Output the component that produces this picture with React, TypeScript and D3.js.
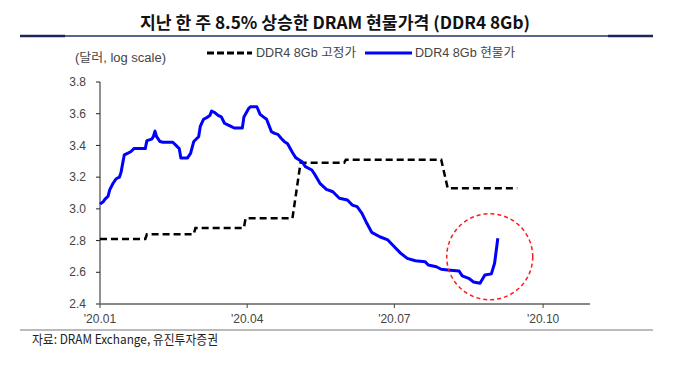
import React from 'react';
import * as d3 from 'd3';

// DDR4 8Gb fixed (contract) price, USD
const fixedDates = ['2020-01-01', '2020-01-29', '2020-01-30', '2020-02-28', '2020-02-29', '2020-03-30', '2020-03-31',
  '2020-04-29', '2020-05-04', '2020-05-31', '2020-06-01', '2020-07-30', '2020-08-03', '2020-09-15'];
const fixedValues = [2.81, 2.81, 2.84, 2.84, 2.88, 2.88, 2.94, 2.94, 3.29, 3.29, 3.31, 3.31, 3.13, 3.13];

// DDR4 8Gb spot price, USD
const spotDates = ['2020-01-01', '2020-01-03', '2020-01-04', '2020-01-06', '2020-01-07', '2020-01-09', '2020-01-11',
  '2020-01-13', '2020-01-14', '2020-01-16', '2020-01-18', '2020-01-20', '2020-01-22', '2020-01-29', '2020-01-30',
  '2020-02-02', '2020-02-03', '2020-02-04', '2020-02-05', '2020-02-07', '2020-02-09', '2020-02-15', '2020-02-17',
  '2020-02-19', '2020-02-20', '2020-02-24', '2020-02-26', '2020-02-28', '2020-03-01', '2020-03-02', '2020-03-03',
  '2020-03-05', '2020-03-07', '2020-03-09', '2020-03-10', '2020-03-12', '2020-03-14', '2020-03-16', '2020-03-18',
  '2020-03-20', '2020-03-22', '2020-03-24', '2020-03-29', '2020-03-30', '2020-04-02', '2020-04-03', '2020-04-07',
  '2020-04-09', '2020-04-11', '2020-04-13', '2020-04-16', '2020-04-18', '2020-04-20', '2020-04-22', '2020-04-24',
  '2020-04-26', '2020-04-29', '2020-05-01', '2020-05-03', '2020-05-05', '2020-05-07', '2020-05-11', '2020-05-13',
  '2020-05-16', '2020-05-20', '2020-05-24', '2020-05-28', '2020-06-02', '2020-06-05', '2020-06-08', '2020-06-11',
  '2020-06-14', '2020-06-17', '2020-06-22', '2020-06-27', '2020-07-01', '2020-07-05', '2020-07-09', '2020-07-14',
  '2020-07-20', '2020-07-22', '2020-07-27', '2020-07-30', '2020-08-03', '2020-08-10', '2020-08-12', '2020-08-16',
  '2020-08-19', '2020-08-23', '2020-08-26', '2020-08-30', '2020-09-01', '2020-09-03'];
const spotValues = [3.03, 3.045, 3.06, 3.08, 3.12, 3.16, 3.19,
  3.20, 3.23, 3.34, 3.35, 3.36, 3.38, 3.38, 3.43,
  3.44, 3.455, 3.49, 3.455, 3.425, 3.42, 3.42, 3.40,
  3.38, 3.32, 3.32, 3.35, 3.425, 3.445, 3.455, 3.52,
  3.565, 3.575, 3.59, 3.617, 3.607, 3.59, 3.58, 3.54,
  3.53, 3.52, 3.51, 3.51, 3.58, 3.634, 3.644, 3.644,
  3.596, 3.58, 3.565, 3.487, 3.476, 3.47, 3.445, 3.424,
  3.41, 3.355, 3.323, 3.31, 3.297, 3.266, 3.245, 3.214,
  3.161, 3.123, 3.108, 3.067, 3.056, 3.024, 3.014, 2.972,
  2.909, 2.852, 2.824, 2.804, 2.761, 2.719, 2.688, 2.673,
  2.667, 2.646, 2.635, 2.619, 2.614, 2.608, 2.577, 2.562,
  2.539, 2.531, 2.583, 2.59, 2.657, 2.815];

const yTicks = [2.4, 2.6, 2.8, 3.0, 3.2, 3.4, 3.6, 3.8];
const xTickDates = ['2020-01-01', '2020-04-01', '2020-07-01', '2020-10-01'];
const xTickLabels = ["'20.01", "'20.04", "'20.07", "'20.10"];

// highlighted area (dashed red circle)
const highlightDate = '2020-08-29';
const highlightValue = 2.698;

const title = '지난 한 주 8.5% 상승한 DRAM 현물가격 (DDR4 8Gb)';
const unitLabel = '(달러, log scale)';
const legendLabels = ['DDR4 8Gb 고정가', 'DDR4 8Gb 현물가'];
const source = '자료: DRAM Exchange, 유진투자증권';

const parse = d3.timeParse('%Y-%m-%d');
const FONT = '"Liberation Sans", Arial, "Noto Sans CJK KR", sans-serif';
const KFONT = '"Noto Sans CJK KR", "Liberation Sans", sans-serif';

const App: React.FC = () => {
  const width = 680;
  const height = 365;

  const x = d3.scaleTime()
    .domain([parse('2020-01-01') as Date, parse('2020-10-30') as Date])
    .range([100, 590]);
  const y = d3.scaleLinear().domain([2.4, 3.8]).range([304, 82]);

  const line = d3.line<[Date, number]>()
    .x(d => x(d[0]))
    .y(d => y(d[1]));

  const fixed: [Date, number][] = fixedDates.map((d, i) => [parse(d) as Date, fixedValues[i]]);
  const spot: [Date, number][] = spotDates.map((d, i) => [parse(d) as Date, spotValues[i]]);

  const [x0, x1] = x.range();
  const [yBottom, yTop] = y.range();

  return (
    <svg width={width} height={height} style={{ position: 'absolute', left: 0, top: 0, background: '#fff' }}>
      {/* title */}
      <text x={335} y={29} textAnchor="middle" fontFamily={KFONT} fontWeight="bold" fontSize={17}
        textLength={390} lengthAdjust="spacingAndGlyphs" fill="#111">{title}</text>
      <line x1={20} x2={653} y1={36} y2={36} stroke="#24336a" strokeWidth={1.5} />
      <line x1={20} x2={65} y1={36} y2={36} stroke="#1c2757" strokeWidth={2.5} />
      <line x1={608} x2={653} y1={36} y2={36} stroke="#1c2757" strokeWidth={2.5} />

      {/* unit and legend */}
      <text x={75} y={62} fontFamily={FONT} fontSize={12} fill="#444" textLength={91}
        lengthAdjust="spacingAndGlyphs">{unitLabel}</text>
      <line x1={207} x2={252} y1={53} y2={53} stroke="#000" strokeWidth={3} strokeDasharray="7 3" />
      <text x={256} y={57} fontFamily={FONT} fontSize={12} fill="#444" textLength={100}
        lengthAdjust="spacingAndGlyphs">{legendLabels[0]}</text>
      <line x1={365} x2={412} y1={53} y2={53} stroke="#0000ff" strokeWidth={3} />
      <text x={415} y={57} fontFamily={FONT} fontSize={12} fill="#444" textLength={100}
        lengthAdjust="spacingAndGlyphs">{legendLabels[1]}</text>

      {/* y axis */}
      <line x1={x0} x2={x0} y1={yTop} y2={yBottom} stroke="#222" strokeWidth={1} />
      {yTicks.map(t => (
        <g key={t} transform={`translate(0,${y(t)})`}>
          <line x1={x0 - 4} x2={x0} stroke="#222" />
          <text x={86} dy="0.35em" textAnchor="end" fontFamily={FONT} fontSize={12} fill="#444">{t.toFixed(1)}</text>
        </g>
      ))}

      {/* x axis */}
      <line x1={x0} x2={x1} y1={yBottom} y2={yBottom} stroke="#888" strokeWidth={2} />
      {xTickDates.map((d, i) => {
        const px = x(parse(d) as Date);
        return (
          <g key={d}>
            <line x1={px} x2={px} y1={yBottom} y2={yBottom + 4} stroke="#444" />
            <text x={px} y={yBottom + 19} textAnchor="middle" fontFamily={FONT} fontSize={12} fill="#444">{xTickLabels[i]}</text>
          </g>
        );
      })}

      {/* series */}
      <path d={line(fixed) ?? ''} fill="none" stroke="#000" strokeWidth={2.5} strokeDasharray="7 4" />
      <path d={line(spot) ?? ''} fill="none" stroke="#0000ff" strokeWidth={3} strokeLinejoin="round" />

      {/* highlight */}
      <circle cx={x(parse(highlightDate) as Date)} cy={y(highlightValue)} r={43} fill="none"
        stroke="#ff1a1a" strokeWidth={1.5} strokeDasharray="4 3" />

      {/* source */}
      <line x1={20} x2={653} y1={330} y2={330} stroke="#bbb" strokeWidth={2} />
      <text x={32} y={344} fontFamily={KFONT} fontSize={13} fill="#222" textLength={186}
        lengthAdjust="spacingAndGlyphs">{source}</text>
    </svg>
  );
};

export default App;
